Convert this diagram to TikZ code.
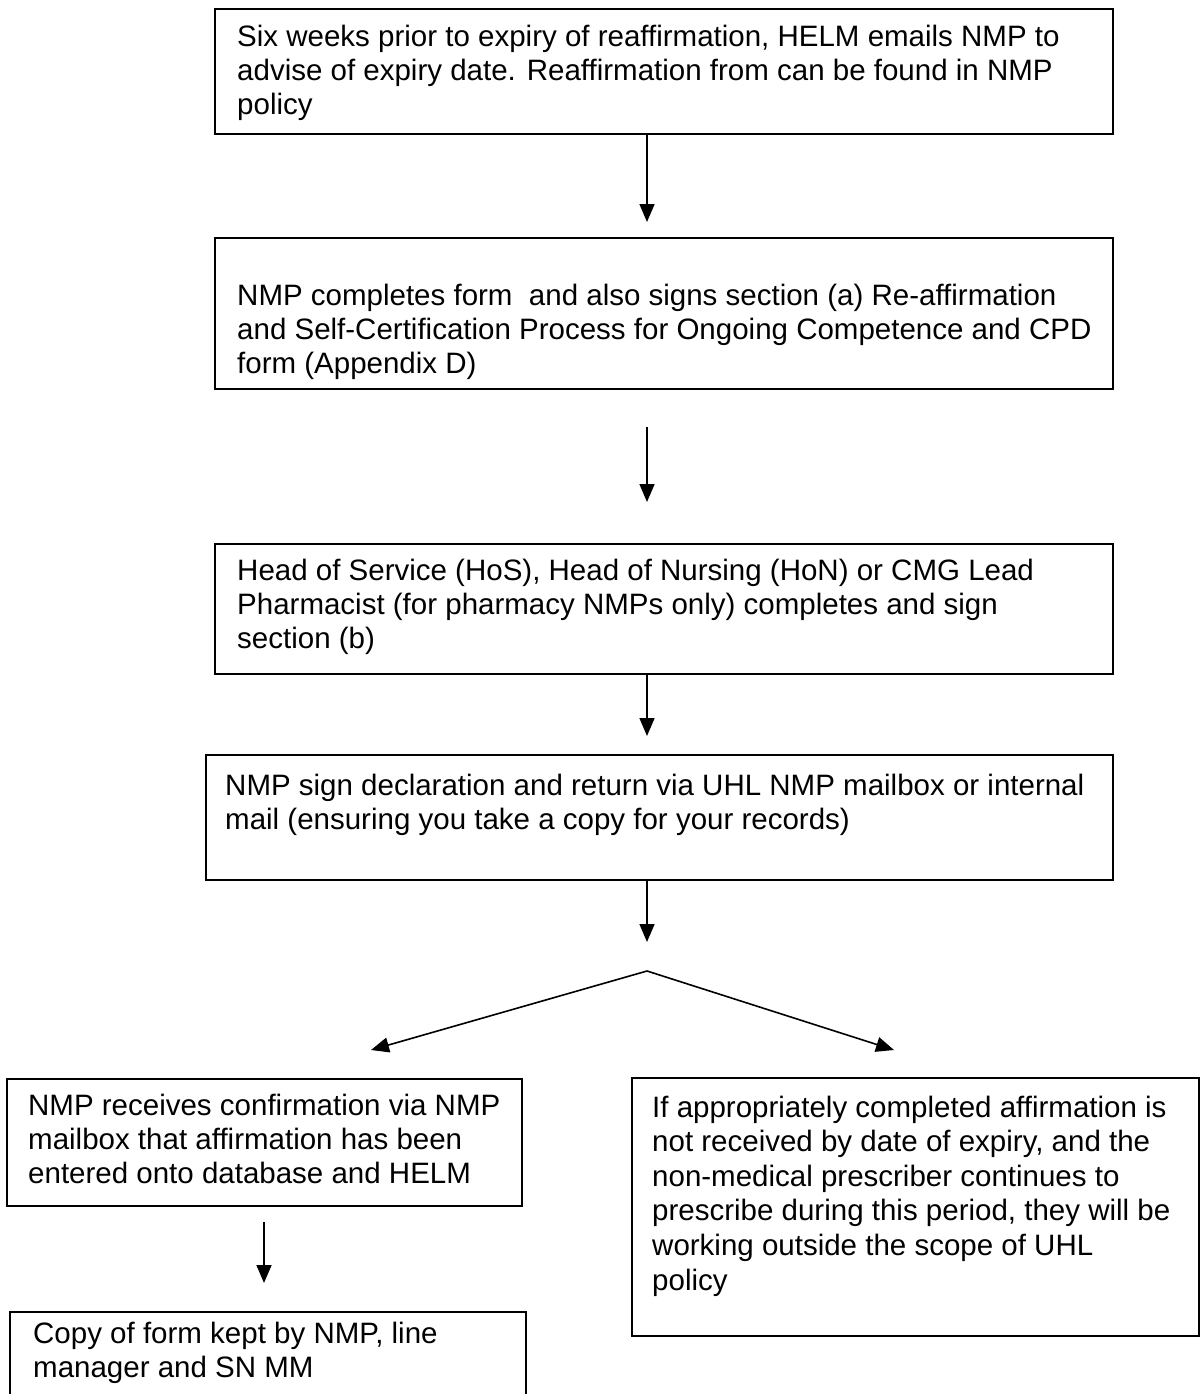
\documentclass[tikz,border=0pt]{standalone}
\usepackage{fontspec}
\setmainfont{Liberation Sans}
\usetikzlibrary{arrows.meta}
\begin{document}
\begin{tikzpicture}[x=1pt,y=-1pt,
  box/.style={draw, line width=1.6pt, rectangle, inner sep=0pt, anchor=north west},
  txt/.style={anchor=base west, inner sep=0pt, font=\fontsize{29.5}{34}\selectfont},
  arr/.style={line width=1.6pt, -{Triangle[length=18pt,width=15pt]}}]
\useasboundingbox (0,0) rectangle (1203,1394);
\clip (0,0) rectangle (1203,1394);
% boxes
\node[box, minimum width=898pt, minimum height=125pt] (b1) at (214,8) {};
\node[box, minimum width=898pt, minimum height=151pt] (b2) at (214,237) {};
\node[box, minimum width=898pt, minimum height=130pt] (b3) at (214,543) {};
\node[box, minimum width=907pt, minimum height=125pt] (b4) at (205,754) {};
\node[box, minimum width=515pt, minimum height=127pt] (b5) at (6,1078) {};
\node[box, minimum width=516pt, minimum height=130pt] (b6) at (9,1311) {};
\node[box, minimum width=567pt, minimum height=258pt] (b7) at (631,1077) {};
% texts
\node[txt] (t1a) at (237,47) {Six weeks prior to expiry of reaffirmation, HELM emails NMP to};
\node[txt] (t1b) at (237,81) {advise of expiry date. Reaffirmation from can be found in NMP};
\node[txt] (t1c) at (237,115) {policy};
\node[txt] (t2a) at (237,305) {NMP completes form\ \ and also signs section (a) Re-affirmation};
\node[txt] (t2b) at (237,339) {and Self-Certification Process for Ongoing Competence and CPD};
\node[txt] (t2c) at (237,373) {form (Appendix D)};
\node[txt] (t3a) at (237,580) {Head of Service (HoS), Head of Nursing (HoN) or CMG Lead};
\node[txt] (t3b) at (237,614) {Pharmacist (for pharmacy NMPs only) completes and sign};
\node[txt] (t3c) at (237,648) {section (b)};
\node[txt] (t4a) at (225,795) {NMP sign declaration and return via UHL NMP mailbox or internal};
\node[txt] (t4b) at (225,829) {mail (ensuring you take a copy for your records)};
\node[txt] (t5a) at (28,1115) {NMP receives confirmation via NMP};
\node[txt] (t5b) at (28,1149) {mailbox that affirmation has been};
\node[txt] (t5c) at (28,1183) {entered onto database and HELM};
\node[txt] (t6a) at (33,1343) {Copy of form kept by NMP, line};
\node[txt] (t6b) at (33,1377) {manager and SN MM};
\node[txt] (t7a) at (652,1117) {If appropriately completed affirmation is};
\node[txt] (t7b) at (652,1151.6) {not received by date of expiry, and the};
\node[txt] (t7c) at (652,1186.2) {non-medical prescriber continues to};
\node[txt] (t7d) at (652,1220.8) {prescribe during this period, they will be};
\node[txt] (t7e) at (652,1255.4) {working outside the scope of UHL};
\node[txt] (t7f) at (652,1290) {policy};
% connector points
\coordinate (a1e) at (647,222);
\coordinate (a2s) at (647,427);
\coordinate (a2e) at (647,502);
\coordinate (a3e) at (647,736);
\coordinate (a4e) at (647,942);
\coordinate (fork) at (647,971);
\coordinate (tipL) at (371,1050);
\coordinate (tipR) at (894,1050);
\coordinate (a5s) at (264,1222);
\coordinate (a5e) at (264,1283);
% connectors
\draw[arr] (b1.south -| a1e) -- (a1e);
\draw[arr] (a2s) -- (a2e);
\draw[arr] (b3.south -| a3e) -- (a3e);
\draw[arr] (b4.south -| a4e) -- (a4e);
\draw[arr] (fork) -- (tipL);
\draw[arr] (fork) -- (tipR);
\draw[arr] (a5s) -- (a5e);
\end{tikzpicture}
\end{document}
